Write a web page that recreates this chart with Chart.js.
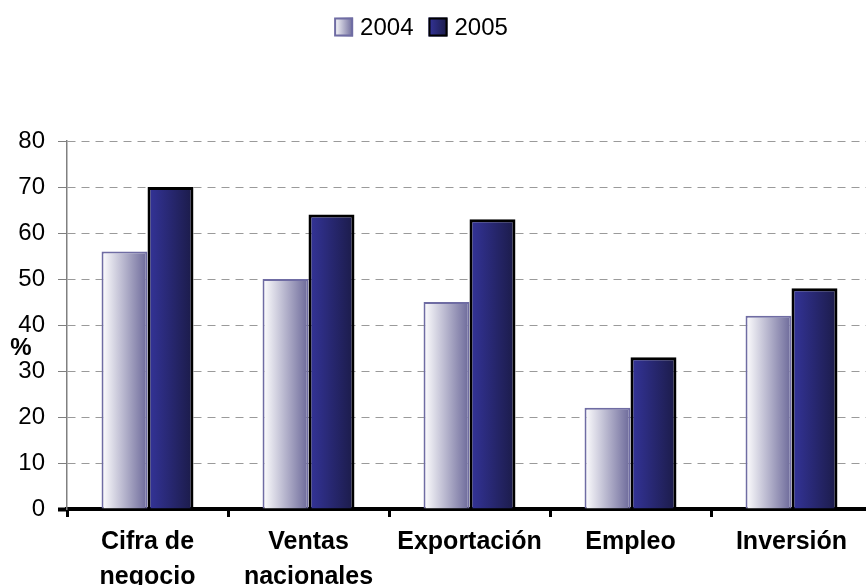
<!DOCTYPE html>
<html>
<head>
<meta charset="utf-8">
<style>
  html, body { margin: 0; padding: 0; background: #ffffff; }
  #wrap { width: 866px; height: 585px; position: relative; overflow: hidden; }
  #chart { position: absolute; left: 0; top: 0; }
</style>
<script src="https://cdn.jsdelivr.net/npm/chart.js@4/dist/chart.umd.min.js"></script>
</head>
<body>
<div id="wrap"><canvas id="chart" width="872" height="585"></canvas></div>
<script>
// Categories (x-axis labels, multi-line where wrapped)
const categories = [
  ['Cifra de', 'negocio'],
  ['Ventas', 'nacionales'],
  'Exportación',
  'Empleo',
  'Inversión'
];

// Series values, in %
const seriesNames = ['2004', '2005'];
const values2004 = [56, 50, 45, 22, 42];
const values2005 = [70, 64, 63, 33, 48];

// Y axis range / ticks
const yMin = 0;
const yMax = 80;
const yStep = 10;
const yTitle = '%';

const FONT = "'Liberation Sans', Arial, sans-serif";
const CAT_PCT = 0.571;

// Horizontal gradient stops per series
const fills = [
  ['#ffffff', '#6b6899'],
  ['#34349a', '#1b1b48']
];
const borders = ['#6f6ca3', '#000000'];
const borderWidths = [2, 3];

function barFill(dsIndex) {
  return (ctx) => {
    const chart = ctx.chart;
    const xs = chart.scales && chart.scales.x;
    const stops = fills[dsIndex];
    if (!xs || ctx.type !== 'data') return stops[1];
    const c0 = xs.getPixelForValue(0);
    const c1 = xs.getPixelForValue(1);
    const center = xs.getPixelForValue(ctx.dataIndex);
    if (!isFinite(c0) || !isFinite(c1) || !isFinite(center) || c1 === c0) return stops[1];
    const catW = Math.abs(c1 - c0);
    const barW = catW * CAT_PCT / 2;
    const left = center - catW * CAT_PCT / 2 + dsIndex * barW;
    const g = chart.ctx.createLinearGradient(left, 0, left + barW, 0);
    g.addColorStop(0, stops[0]);
    g.addColorStop(1, stops[1]);
    return g;
  };
}

// Legend row and "%" axis caption drawn on top of the chart
const decorations = {
  id: 'decorations',
  afterDraw(chart) {
    const ctx = chart.ctx;
    ctx.save();
    // legend
    ctx.font = '24px ' + FONT;
    const box = 19, gapText = 7, gapItem = 15;
    const widths = seriesNames.map(n => ctx.measureText(n).width);
    let total = 0;
    widths.forEach((w, i) => { total += box + gapText + w + (i ? gapItem : 0); });
    let x = 421 - total / 2;
    const cy = 27;
    seriesNames.forEach((name, i) => {
      const g = ctx.createLinearGradient(x, 0, x + box, 0);
      g.addColorStop(0, fills[i][0]);
      g.addColorStop(1, fills[i][1]);
      ctx.fillStyle = g;
      ctx.fillRect(x, cy - box / 2, box, box);
      ctx.lineWidth = 2;
      ctx.strokeStyle = borders[i];
      ctx.strokeRect(x + 1, cy - box / 2 + 1, box - 2, box - 2);
      ctx.fillStyle = '#000000';
      ctx.textAlign = 'left';
      ctx.textBaseline = 'middle';
      ctx.fillText(name, x + box + gapText, cy + 1);
      x += box + gapText + widths[i] + gapItem;
    });
    // y-axis caption
    ctx.font = 'bold 24px ' + FONT;
    ctx.textAlign = 'center';
    ctx.textBaseline = 'middle';
    ctx.fillStyle = '#000000';
    ctx.fillText(yTitle, 21, 348);
    ctx.restore();
  }
};

new Chart(document.getElementById('chart'), {
  type: 'bar',
  data: {
    labels: categories,
    datasets: [
      {
        label: seriesNames[0],
        data: values2004,
        backgroundColor: barFill(0),
        borderColor: borders[0],
        borderWidth: borderWidths[0],
        categoryPercentage: CAT_PCT,
        barPercentage: 1
      },
      {
        label: seriesNames[1],
        data: values2005,
        backgroundColor: barFill(1),
        borderColor: borders[1],
        borderWidth: borderWidths[1],
        categoryPercentage: CAT_PCT,
        barPercentage: 1
      }
    ]
  },
  options: {
    responsive: false,
    animation: false,
    devicePixelRatio: 1,
    layout: { padding: { top: 141, left: 18, right: 0, bottom: 0 } },
    plugins: {
      legend: { display: false },
      tooltip: { enabled: false },
      title: { display: false }
    },
    scales: {
      x: {
        offset: true,
        afterFit(scale) {
          scale.height = 76;
          scale.paddingLeft = 0;
          scale.paddingRight = 0;
        },
        grid: {
          offset: true,
          drawOnChartArea: false,
          drawTicks: true,
          tickLength: 8,
          color: '#000000',
          lineWidth: 3
        },
        border: { display: true, color: '#000000', width: 4 },
        ticks: {
          color: '#000000',
          padding: 8,
          font: { family: FONT, size: 25, weight: 'bold', lineHeight: 1.4 },
          maxRotation: 0,
          autoSkip: false
        }
      },
      y: {
        min: yMin,
        max: yMax,
        afterFit(scale) {
          scale.width = 49;
          scale.paddingTop = 0;
          scale.paddingBottom = 0;
        },
        grid: {
          color: (c) => (c.tick && c.tick.value === 0) ? 'rgba(0,0,0,0)' : '#9a9a9a',
          lineWidth: 1,
          drawTicks: true,
          tickLength: 9,
          tickColor: (c) => (c.tick && c.tick.value === 0) ? '#000000' : '#7f7f7f',
          tickWidth: (c) => (c.tick && c.tick.value === 0) ? 4 : 1,
          tickBorderDash: []
        },
        border: { display: true, color: '#808080', width: 1.5, dash: [8, 6] },
        ticks: {
          stepSize: yStep,
          color: '#000000',
          padding: 13,
          font: { family: FONT, size: 24 }
        }
      }
    }
  },
  plugins: [decorations]
});
</script>
</body>
</html>
